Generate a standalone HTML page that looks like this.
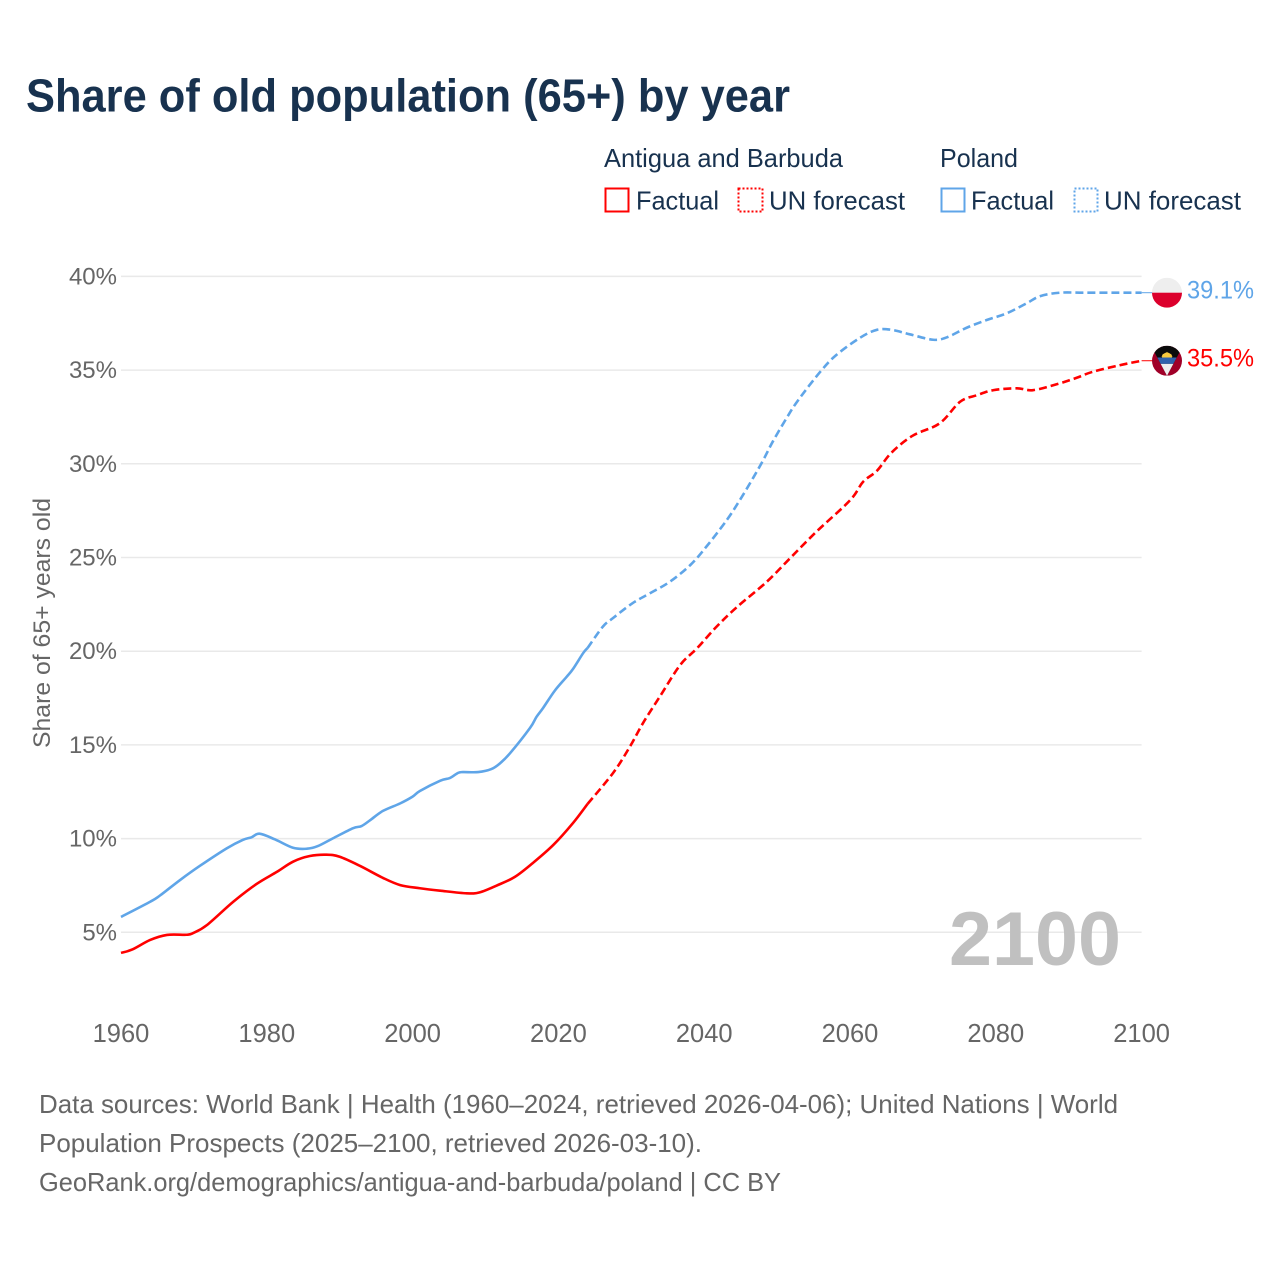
<!DOCTYPE html>
<html lang="en">
<head>
<meta charset="utf-8">
<title>Share of old population (65+) by year</title>
<style>
html,body{margin:0;padding:0;background:#fff;}
svg{display:block;}
text{font-family:"Liberation Sans",sans-serif;}
</style>
</head>
<body>
<svg id="chart" xmlns="http://www.w3.org/2000/svg" width="1280" height="1280" viewBox="0 0 1280 1280">
  <defs>
    <clipPath id="flag-clip-pl"><circle cx="0" cy="0" r="15"/></clipPath>
    <clipPath id="flag-clip-ag"><circle cx="0" cy="0" r="15"/></clipPath>
  </defs>
  <rect width="1280" height="1280" fill="#fff"/>
  <text x="26" y="111.5" font-size="46" font-weight="700" fill="#18324f" textLength="764" lengthAdjust="spacingAndGlyphs">Share of old population (65+) by year</text>

  <g font-size="26" fill="#18324f">
    <text x="604" y="167" textLength="239" lengthAdjust="spacingAndGlyphs">Antigua and Barbuda</text>
    <rect x="605.5" y="188.5" width="23" height="23" fill="none" stroke="#ff0000" stroke-width="2"/>
    <text x="636" y="209.5" textLength="83" lengthAdjust="spacingAndGlyphs">Factual</text>
    <rect x="738.5" y="188.5" width="24" height="23" fill="none" stroke="#ff0000" stroke-width="2" stroke-dasharray="2 2"/>
    <text x="769" y="209.5" textLength="136" lengthAdjust="spacingAndGlyphs">UN forecast</text>
    <text x="940" y="167" textLength="78" lengthAdjust="spacingAndGlyphs">Poland</text>
    <rect x="941.5" y="188.5" width="23" height="23" fill="none" stroke="#5fa5e8" stroke-width="2"/>
    <text x="971" y="209.5" textLength="83" lengthAdjust="spacingAndGlyphs">Factual</text>
    <rect x="1074.5" y="188.5" width="23" height="23" fill="none" stroke="#5fa5e8" stroke-width="2" stroke-dasharray="2 2"/>
    <text x="1104" y="209.5" textLength="137" lengthAdjust="spacingAndGlyphs">UN forecast</text>
  </g>

  <g id="grid"></g>
  <text x="949" y="965" font-size="76" font-weight="700" fill="#c0c0c0" textLength="172" lengthAdjust="spacingAndGlyphs">2100</text>
  <g id="yticks"></g>
  <g id="xticks"></g>
  <text transform="translate(50,623) rotate(-90)" text-anchor="middle" font-size="24" fill="#666" textLength="250" lengthAdjust="spacingAndGlyphs">Share of 65+ years old</text>
  <g id="series"></g>

  <g id="flag-poland">
    <g clip-path="url(#flag-clip-pl)">
      <rect x="-15" y="-15" width="30" height="15" fill="#eeeeee"/>
      <rect x="-15" y="0" width="30" height="15" fill="#dc002c"/>
    </g>
  </g>
  <g id="flag-antigua">
    <g clip-path="url(#flag-clip-ag)">
      <rect x="-15" y="-15" width="30" height="30" fill="#a00028"/>
      <polygon points="-16,-15 16,-15 0,15" fill="#0b0b0b"/>
      <polygon points="-6.4,3 6.4,3 0,15" fill="#eeeeee"/>
      <polygon points="-9.7,-3.2 9.7,-3.2 6.4,3 -6.4,3" fill="#2f62ad"/>
      <path d="M-5,-3.2 A5,5 0 0 1 5,-3.2 Z" fill="#f8c93e"/>
      <polygon points="-5.5,-4 -4,-7 -2.4,-6 0,-9 2.4,-6 4,-7 5.5,-4" fill="#f8c93e"/>
    </g>
  </g>
  <g id="value-labels"></g>

  <g font-size="26" fill="#666">
    <text x="39" y="1113" textLength="1079" lengthAdjust="spacingAndGlyphs">Data sources: World Bank | Health (1960–2024, retrieved 2026-04-06); United Nations | World</text>
    <text x="39" y="1152" textLength="663" lengthAdjust="spacingAndGlyphs">Population Prospects (2025–2100, retrieved 2026-03-10).</text>
    <text x="39" y="1191" textLength="742" lengthAdjust="spacingAndGlyphs">GeoRank.org/demographics/antigua-and-barbuda/poland | CC BY</text>
  </g>
</svg>
<script>
var yTickValues = [5, 10, 15, 20, 25, 30, 35, 40];
var xTickValues = [1960, 1980, 2000, 2020, 2040, 2060, 2080, 2100];

var antiguaFactualYears = [1960,1961.6,1964,1966.3,1969,1969.9,1971.8,1975.4,1978.6,1981.4,1983.6,1985.9,1988.2,1990,1992.8,1995.9,1998.3,2001,2003.8,2007.4,2009.2,2011.5,2014,2016.5,2019.3,2022,2024];
var antiguaFactualValues = [3.9,4.09,4.59,4.86,4.87,4.96,5.39,6.63,7.58,8.23,8.77,9.07,9.14,9.03,8.54,7.91,7.52,7.35,7.22,7.08,7.13,7.49,7.95,8.7,9.66,10.83,11.85];
var antiguaForecastYears = [2024,2027.5,2029.8,2031.6,2033.9,2036.7,2039,2041.7,2044.5,2048.6,2051.8,2055.4,2060,2061.8,2063.7,2065.7,2068.6,2072.3,2075.1,2077.4,2079.7,2082.9,2085.1,2088.4,2091.1,2093.3,2097,2100];
var antiguaForecastValues = [11.85,13.5,14.9,16.16,17.57,19.26,20.15,21.31,22.36,23.71,24.97,26.38,28.05,29.04,29.63,30.6,31.5,32.16,33.31,33.66,33.93,34.03,33.93,34.25,34.59,34.91,35.26,35.5];

var polandFactualYears = [1960,1964,1965.3,1968.1,1970.8,1974.5,1976.7,1977.9,1979,1981.1,1983.6,1985.5,1987,1989.1,1991.8,1993,1994.2,1995.9,1998.3,2000,2001,2003.8,2005.1,2006.2,2006.9,2009,2010.8,2012,2013.4,2016.1,2017,2017.9,2019.5,2021.1,2022,2023.4,2024];
var polandFactualValues = [5.82,6.63,6.95,7.79,8.54,9.48,9.93,10.07,10.26,9.96,9.51,9.46,9.6,10.02,10.55,10.67,10.99,11.47,11.88,12.24,12.54,13.09,13.23,13.5,13.55,13.55,13.71,14.02,14.57,15.9,16.5,16.97,17.89,18.62,19.05,19.9,20.17];
var polandForecastYears = [2024,2026.1,2027.5,2030.2,2032.6,2035.3,2038.1,2040.3,2043.1,2044.9,2046.7,2048.1,2049.4,2051.3,2052.9,2055.9,2058.1,2061.4,2063.7,2065.7,2068.2,2071.4,2073.3,2076,2078.8,2081.5,2084.2,2086.1,2088.8,2092,2096,2100];
var polandForecastValues = [20.17,21.31,21.77,22.57,23.1,23.71,24.6,25.58,27,28.07,29.24,30.2,31.18,32.44,33.4,34.9,35.8,36.73,37.15,37.15,36.91,36.62,36.75,37.26,37.68,38.03,38.56,38.95,39.13,39.13,39.13,39.13];

var NS = 'http://www.w3.org/2000/svg';
var RED = '#ff0000';
var BLUE = '#5fa5e8';

function xScale(year) { return 121 + (year - 1960) * 7.29; }
function yScale(v) { return 932.3 - (v - 5) * 18.74; }

function smoothPath(years, values) {
  var p = years.map(function (yr, i) { return [xScale(yr), yScale(values[i])]; });
  var d = 'M' + p[0][0].toFixed(2) + ' ' + p[0][1].toFixed(2);
  for (var i = 0; i < p.length - 1; i++) {
    var p0 = p[i === 0 ? 0 : i - 1], p1 = p[i], p2 = p[i + 1], p3 = p[i + 2 < p.length ? i + 2 : i + 1];
    var c1x = p1[0] + (p2[0] - p0[0]) / 6, c1y = p1[1] + (p2[1] - p0[1]) / 6;
    var c2x = p2[0] - (p3[0] - p1[0]) / 6, c2y = p2[1] - (p3[1] - p1[1]) / 6;
    d += 'C' + c1x.toFixed(2) + ' ' + c1y.toFixed(2) + ' ' + c2x.toFixed(2) + ' ' + c2y.toFixed(2) + ' ' + p2[0].toFixed(2) + ' ' + p2[1].toFixed(2);
  }
  return d;
}

var gridGroup = document.getElementById('grid');
var yTickGroup = document.getElementById('yticks');
var xTickGroup = document.getElementById('xticks');
var seriesGroup = document.getElementById('series');
var labelGroup = document.getElementById('value-labels');

yTickValues.forEach(function (v) {
  var line = document.createElementNS(NS, 'line');
  
  
  line.setAttribute('x1', xScale(1960));
  line.setAttribute('x2', xScale(2100));
  line.setAttribute('y1', yScale(v));
  line.setAttribute('y2', yScale(v));
  line.setAttribute('stroke', '#e9e9e9');
  line.setAttribute('stroke-width', '1.5');
  gridGroup.appendChild(line);

  var t = document.createElementNS(NS, 'text');
  
  
  t.setAttribute('x', 117);
  t.setAttribute('y', yScale(v) + 8);
  t.setAttribute('text-anchor', 'end');
  t.setAttribute('font-size', '24');
  t.setAttribute('fill', '#666');
  t.textContent = v + '%';
  yTickGroup.appendChild(t);
});

xTickValues.forEach(function (yr) {
  var t = document.createElementNS(NS, 'text');
  
  
  t.setAttribute('x', xScale(yr));
  t.setAttribute('y', 1042);
  t.setAttribute('text-anchor', 'middle');
  t.setAttribute('font-size', '25.5');
  t.setAttribute('fill', '#666');
  t.textContent = yr;
  xTickGroup.appendChild(t);
});

function drawLine(years, values, color, dashed) {
  var path = document.createElementNS(NS, 'path');
  
  
  path.setAttribute('d', smoothPath(years, values));
  path.setAttribute('fill', 'none');
  path.setAttribute('stroke', color);
  path.setAttribute('stroke-width', '2.6');
  path.setAttribute('stroke-linejoin', 'round');
  if (dashed) { path.setAttribute('stroke-dasharray', '8 4'); }
  seriesGroup.appendChild(path);
}

drawLine(polandFactualYears, polandFactualValues, BLUE, false);
drawLine(polandForecastYears, polandForecastValues, BLUE, true);
drawLine(antiguaFactualYears, antiguaFactualValues, RED, false);
drawLine(antiguaForecastYears, antiguaForecastValues, RED, true);

function drawEnd(flagId, years, values, color, label) {
  var last = values[values.length - 1];
  var yEnd = yScale(last);
  var xEnd = xScale(years[years.length - 1]);
  var c = document.createElementNS(NS, 'line');
  
  
  c.setAttribute('x1', xEnd);
  c.setAttribute('x2', xEnd + 11);
  c.setAttribute('y1', yEnd);
  c.setAttribute('y2', yEnd);
  c.setAttribute('stroke', color);
  c.setAttribute('stroke-width', '1');
  seriesGroup.appendChild(c);

  document.getElementById(flagId).setAttribute('transform', 'translate(1167,' + yEnd.toFixed(2) + ')');

  var t = document.createElementNS(NS, 'text');
  
  
  t.setAttribute('x', 1187);
  t.setAttribute('y', yEnd + 6);
  t.setAttribute('font-size', '25');
  t.setAttribute('fill', color);
  t.setAttribute('textLength', '67');
  t.setAttribute('lengthAdjust', 'spacingAndGlyphs');
  t.textContent = last.toFixed(1) + '%';
  labelGroup.appendChild(t);
}

drawEnd('flag-poland', polandForecastYears, polandForecastValues, BLUE, 'value-label-poland');
drawEnd('flag-antigua', antiguaForecastYears, antiguaForecastValues, RED, 'value-label-antigua');
</script>
</body>
</html>
